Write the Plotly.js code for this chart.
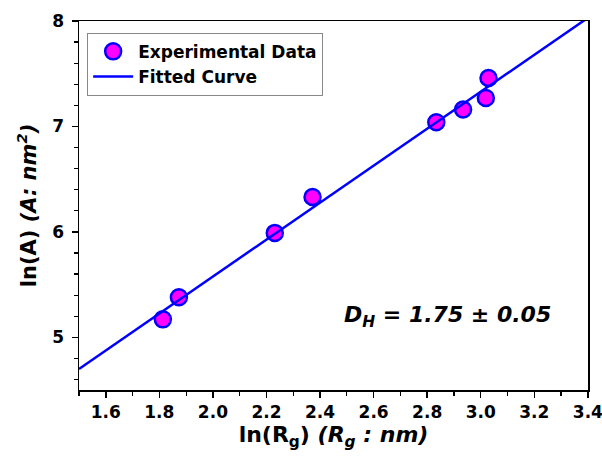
<!DOCTYPE html>
<html>
<head>
<meta charset="utf-8">
<script src="https://cdn.plot.ly/plotly-3.0.1.min.js"></script>
<style>html,body{margin:0;padding:0;background:#fff;}#chart{width:602px;height:459px;}</style>
</head>
<body>
<div id="chart"></div>
<script>
const lnRg = [1.813, 1.873, 2.231, 2.372, 2.834, 2.934, 3.019, 3.029];
const lnA  = [5.17, 5.38, 5.99, 6.33, 7.04, 7.16, 7.27, 7.46];
// Fitted line end points (slope ~1.75)
const fitX = [1.5, 3.4];
const fitY = [4.70, 8.03];
const xTickVals = [1.6, 1.8, 2.0, 2.2, 2.4, 2.6, 2.8, 3.0, 3.2, 3.4];
const xTickText = ['1.6','1.8','2.0','2.2','2.4','2.6','2.8','3.0','3.2','3.4'];
const yTickVals = [5, 6, 7, 8];
const yTickText = ['5','6','7','8'];

const FONT = 'DejaVu Sans, Verdana, sans-serif';

const traces = [
  {
    x: lnRg, y: lnA, mode: 'markers', type: 'scatter', name: 'Experimental Data',
    marker: {size: 16, color: '#ff00ff', line: {color: '#0000ff', width: 2.5}}
  },
  {
    x: fitX, y: fitY, mode: 'lines', type: 'scatter', name: 'Fitted Curve',
    line: {color: '#0000ff', width: 2.5}
  }
];

const layout = {
  width: 602, height: 459,
  margin: {l: 79, r: 14, t: 21, b: 69},
  paper_bgcolor: '#fff', plot_bgcolor: '#fff',
  showlegend: true,
  font: {family: FONT, color: '#000'},
  legend: {
    x: 0.016, y: 0.968, xanchor: 'left', yanchor: 'top',
    bordercolor: '#888', borderwidth: 1, bgcolor: '#fff',
    font: {family: FONT, size: 17, weight: 'bold', color: '#000'},
    itemwidth: 40, tracegroupgap: 0
  },
  xaxis: {
    range: [1.5, 3.4005], autorange: false,
    tickvals: xTickVals, ticktext: xTickText,
    ticks: 'outside', ticklen: 6, tickwidth: 1.5, tickcolor: '#000',
    minor: {dtick: 0.1, tick0: 1.5, ticks: 'outside', ticklen: 4, tickwidth: 1.2, tickcolor: '#000', showgrid: false},
    showline: true, linecolor: '#000', linewidth: 1.5, mirror: true,
    showgrid: false, zeroline: false,
    ticklabeloverflow: 'allow',
    tickfont: {family: FONT, size: 17, weight: 'bold', color: '#000'},
    title: {text: 'ln(R<sub>g</sub>) <i>(R<sub>g</sub> : nm)</i>', font: {family: FONT, size: 22, weight: 'bold', color: '#000'}, standoff: 4}
  },
  yaxis: {
    range: [4.5, 8], autorange: false,
    tickvals: yTickVals, ticktext: yTickText,
    ticks: 'outside', ticklen: 6, tickwidth: 1.5, tickcolor: '#000',
    ticklabelstandoff: 4,
    minor: {dtick: 0.2, tick0: 4.6, ticks: 'outside', ticklen: 4, tickwidth: 1.2, tickcolor: '#000', showgrid: false},
    showline: true, linecolor: '#000', linewidth: 1.5, mirror: true,
    showgrid: false, zeroline: false,
    tickfont: {family: FONT, size: 17, weight: 'bold', color: '#000'},
    title: {text: 'ln(A) <i>(A: nm<sup>2</sup>)</i>', font: {family: FONT, size: 21, weight: 'bold', color: '#000'}, standoff: 10}
  },
  annotations: [{
    x: 2.876, y: 5.2, xref: 'x', yref: 'y', showarrow: false,
    text: '<i>D<sub>H</sub> = 1.75 ± 0.05</i>',
    font: {family: FONT, size: 22, weight: 'bold', color: '#000'}
  }]
};

Plotly.newPlot('chart', traces, layout, {displayModeBar: false, staticPlot: true});
</script>
</body>
</html>
